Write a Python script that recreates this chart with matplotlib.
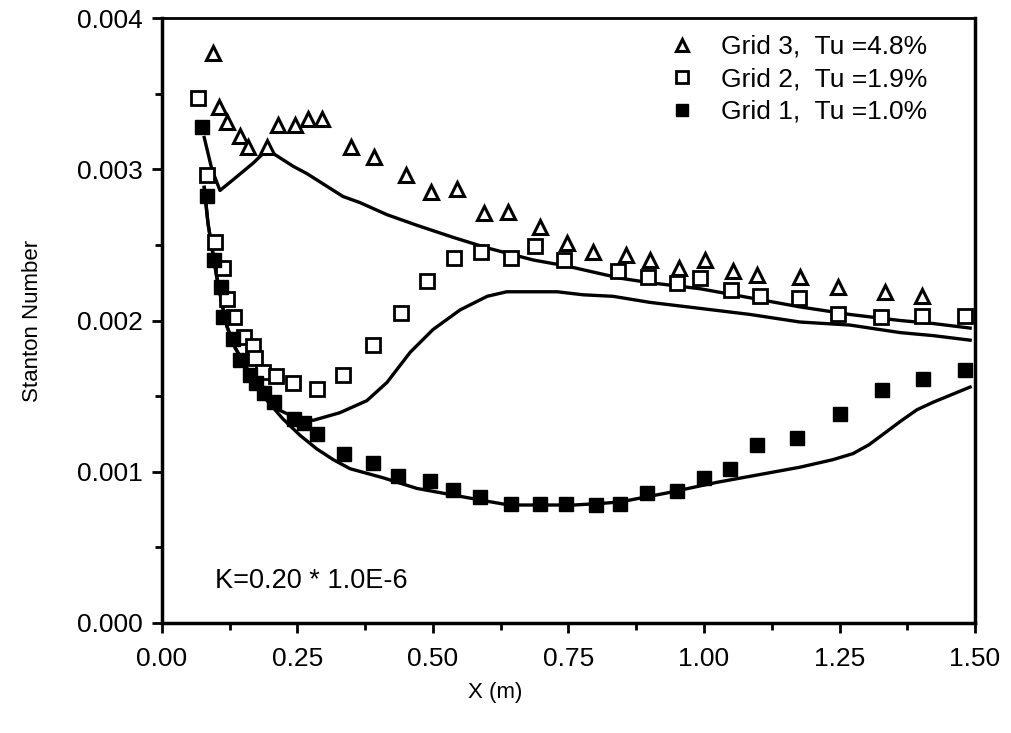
import matplotlib
matplotlib.use("Agg")
import matplotlib.pyplot as plt
from matplotlib.ticker import MultipleLocator, FormatStrFormatter
from matplotlib.lines import Line2D

plt.rcParams['font.family'] = ['Liberation Sans', 'DejaVu Sans']

# ---------------- data (Stanton number x 1e-3) ----------------
grid3_x = [0.094, 0.105, 0.120, 0.144, 0.159, 0.194, 0.214, 0.245, 0.270, 0.295,
           0.348, 0.391, 0.450, 0.496, 0.544, 0.594, 0.638, 0.697, 0.747, 0.795,
           0.857, 0.900, 0.954, 1.002, 1.054, 1.097, 1.177, 1.247, 1.334, 1.402]
grid3_y = [3.77, 3.41, 3.31, 3.22, 3.15, 3.15, 3.29, 3.29, 3.33, 3.33,
           3.15, 3.08, 2.96, 2.85, 2.87, 2.71, 2.72, 2.62, 2.51, 2.45,
           2.43, 2.40, 2.35, 2.40, 2.33, 2.30, 2.29, 2.22, 2.19, 2.16]

grid2_x = [0.066, 0.083, 0.098, 0.113, 0.120, 0.133, 0.152, 0.168, 0.172, 0.186,
           0.210, 0.241, 0.286, 0.334, 0.390, 0.441, 0.489, 0.539, 0.589, 0.644,
           0.688, 0.742, 0.842, 0.896, 0.950, 0.993, 1.050, 1.103, 1.176, 1.247,
           1.326, 1.402, 1.482]
grid2_y = [3.47, 2.96, 2.52, 2.35, 2.14, 2.02, 1.89, 1.83, 1.75, 1.66,
           1.63, 1.59, 1.55, 1.64, 1.84, 2.05, 2.26, 2.41, 2.45, 2.41,
           2.49, 2.40, 2.33, 2.29, 2.25, 2.28, 2.20, 2.16, 2.15, 2.04,
           2.02, 2.03, 2.03]

grid1_x = [0.074, 0.083, 0.096, 0.108, 0.112, 0.131, 0.144, 0.162, 0.173, 0.188,
           0.207, 0.243, 0.262, 0.286, 0.336, 0.389, 0.435, 0.494, 0.537, 0.587,
           0.644, 0.697, 0.745, 0.800, 0.845, 0.895, 0.950, 1.000, 1.048, 1.097,
           1.171, 1.251, 1.328, 1.404, 1.482]
grid1_y = [3.28, 2.82, 2.40, 2.22, 2.02, 1.88, 1.74, 1.64, 1.59, 1.52,
           1.46, 1.35, 1.32, 1.25, 1.12, 1.06, 0.97, 0.94, 0.88, 0.83,
           0.79, 0.79, 0.79, 0.78, 0.79, 0.86, 0.87, 0.96, 1.02, 1.18,
           1.22, 1.38, 1.54, 1.61, 1.67]

# predictions (solid lines)
line3_x = [0.078, 0.092, 0.107, 0.131, 0.168, 0.194, 0.242, 0.268, 0.334, 0.365,
           0.415, 0.470, 0.537, 0.600, 0.685, 0.747, 0.845, 0.900, 0.993, 1.085,
           1.177, 1.269, 1.362, 1.423, 1.491]
line3_y = [3.21, 3.00, 2.86, 2.93, 3.04, 3.13, 3.02, 2.97, 2.82, 2.78,
           2.70, 2.63, 2.55, 2.48, 2.40, 2.36, 2.28, 2.25, 2.21, 2.15,
           2.09, 2.04, 2.00, 1.98, 1.95]

line2_x = [0.078, 0.085, 0.101, 0.113, 0.120, 0.135, 0.162, 0.194, 0.215, 0.245,
           0.279, 0.328, 0.378, 0.415, 0.458, 0.500, 0.550, 0.600, 0.636, 0.729,
           0.777, 0.832, 0.900, 0.993, 1.085, 1.177, 1.269, 1.362, 1.423, 1.491]
line2_y = [2.88, 2.64, 2.29, 2.07, 1.96, 1.82, 1.65, 1.48, 1.41, 1.36,
           1.34, 1.39, 1.47, 1.59, 1.79, 1.94, 2.07, 2.16, 2.19, 2.19,
           2.17, 2.16, 2.12, 2.08, 2.04, 1.99, 1.97, 1.92, 1.90, 1.87]

line1_x = [0.078, 0.085, 0.101, 0.113, 0.120, 0.135, 0.162, 0.194, 0.223, 0.255,
           0.286, 0.316, 0.347, 0.408, 0.470, 0.531, 0.592, 0.640, 0.700, 0.760,
           0.808, 0.845, 0.932, 1.024, 1.116, 1.177, 1.238, 1.275, 1.305, 1.335,
           1.365, 1.393, 1.423, 1.491]
line1_y = [2.88, 2.64, 2.29, 2.07, 1.96, 1.82, 1.65, 1.47, 1.35, 1.24,
           1.15, 1.08, 1.02, 0.96, 0.89, 0.85, 0.81, 0.78, 0.78, 0.78,
           0.79, 0.80, 0.86, 0.93, 0.99, 1.03, 1.08, 1.12, 1.18, 1.26,
           1.34, 1.41, 1.46, 1.56]

labels = ["Grid 3,  Tu =4.8%", "Grid 2,  Tu =1.9%", "Grid 1,  Tu =1.0%"]
x_ticks = [0.0, 0.25, 0.5, 0.75, 1.0, 1.25, 1.5]
y_ticks = [0.0, 0.001, 0.002, 0.003, 0.004]

sc = 1e-3
def s(v):
    return [a * sc for a in v]

fig = plt.figure(figsize=(10.11, 7.33), dpi=100)
ax = fig.add_axes([0.1602, 0.1501, 0.8042, 0.8253])

lw = 2.4
ax.plot(line3_x, s(line3_y), color='black', lw=lw, zorder=2)
ax.plot(line2_x, s(line2_y), color='black', lw=lw, zorder=2)
ax.plot(line1_x, s(line1_y), color='black', lw=lw, zorder=2)

ax.plot(grid3_x, s(grid3_y), ls='none', marker='^', ms=9.5, mfc='white', mec='black', mew=2.2, zorder=3)
ax.plot(grid2_x, s(grid2_y), ls='none', marker='s', ms=9.5, mfc='white', mec='black', mew=2.0, zorder=3)
ax.plot(grid1_x, s(grid1_y), ls='none', marker='s', ms=10, mfc='black', mec='black', mew=1.0, zorder=3)

ax.set_xlim(0, 1.5)
ax.set_ylim(0, 0.004)
ax.set_xticks(x_ticks)
ax.set_yticks(y_ticks)
ax.xaxis.set_minor_locator(MultipleLocator(0.125))
ax.yaxis.set_minor_locator(MultipleLocator(0.0005))
ax.xaxis.set_major_formatter(FormatStrFormatter('%.2f'))
ax.yaxis.set_major_formatter(FormatStrFormatter('%.3f'))
ax.tick_params(axis='both', which='major', direction='out', length=7, width=2, labelsize=19)
ax.tick_params(axis='both', which='minor', direction='out', length=5, width=2)
ax.tick_params(axis='x', which='major', pad=10)
ax.tick_params(axis='y', which='major', pad=7)
for sp in ax.spines.values():
    sp.set_linewidth(2.5)
ax.spines['top'].set_linewidth(2.0)

ax.set_xlabel("X (m)", fontsize=16)
ax.xaxis.set_label_coords(0.41, -0.097)
ax.set_ylabel("Stanton Number", fontsize=16, labelpad=24)

ax.text(0.098, 0.00028, "K=0.20 * 1.0E-6", fontsize=19.5, ha='left', va='center')

handles = [
    Line2D([], [], ls='none', marker='^', ms=8, mfc='white', mec='black', mew=2.2),
    Line2D([], [], ls='none', marker='s', ms=8, mfc='white', mec='black', mew=2.0),
    Line2D([], [], ls='none', marker='s', ms=8.5, mfc='black', mec='black'),
]
ax.legend(handles, labels, loc='upper left', bbox_to_anchor=(0.623, 0.972),
          frameon=False, fontsize=19, handlelength=1.0, handletextpad=1.0,
          labelspacing=0.32, borderaxespad=0, borderpad=0)

fig.savefig("out.png", dpi=100)
